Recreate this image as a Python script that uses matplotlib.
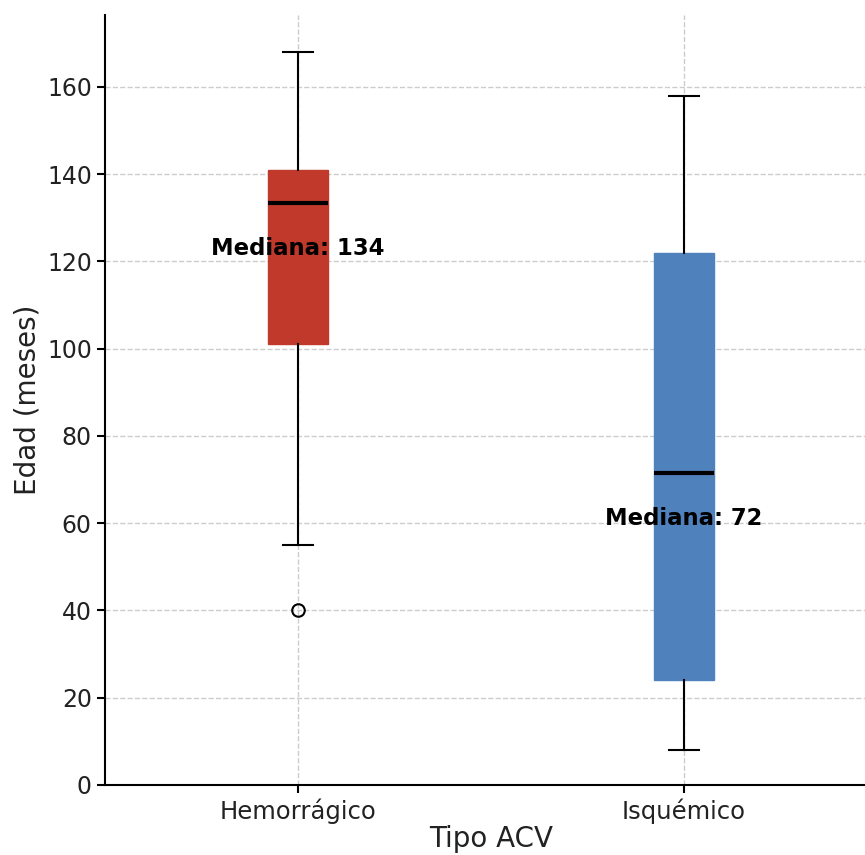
import matplotlib.pyplot as plt

# datos
tipos = ['Hemorrágico', 'Isquémico']
minimos = [55, 8]
q1 = [101, 24]
medianas = [133.5, 71.5]
q3 = [141, 122]
maximos = [168, 158]
atipicos = [[40], []]
colores = ['#C0392B', '#4F81BD']

stats = []
for i, t in enumerate(tipos):
    stats.append({'label': t, 'whislo': minimos[i], 'q1': q1[i], 'med': medianas[i],
                  'q3': q3[i], 'whishi': maximos[i], 'fliers': atipicos[i]})

fig = plt.figure(figsize=(8.65, 8.55), dpi=100)
# the original was cropped on the right, so the axes run a bit past the figure edge
ax = fig.add_axes([0.1214, 0.0819, 0.8925, 0.9006])

bp = ax.bxp(stats, positions=[0, 1], widths=0.155, patch_artist=True, showfliers=True,
            medianprops=dict(color='black', linewidth=3),
            whiskerprops=dict(color='black', linewidth=1.5),
            capprops=dict(color='black', linewidth=1.5),
            flierprops=dict(marker='o', markerfacecolor='none', markeredgecolor='black',
                            markersize=9, markeredgewidth=1.5))
for patch, c in zip(bp['boxes'], colores):
    patch.set_facecolor(c)
    patch.set_edgecolor(c)

for i, m in enumerate(medianas):
    ax.text(i, m - 10.5, 'Mediana: {}'.format(round(m + 0.01)), ha='center', va='center',
            fontsize=16.4, fontweight='bold', color='black')

ax.set_xlim(-0.5, 1.5)
ax.set_ylim(0, 176.5)
ax.set_yticks(range(0, 161, 20))
ax.grid(True, linestyle='--', color='#cccccc', linewidth=1)
ax.set_axisbelow(True)
ax.spines['top'].set_visible(False)
ax.spines['right'].set_visible(False)
ax.spines['left'].set_linewidth(1.5)
ax.spines['bottom'].set_linewidth(1.5)
ax.tick_params(axis='x', labelsize=17.5, width=1.5, length=6, labelcolor='#222222')
ax.tick_params(axis='y', labelsize=17, width=1.5, length=6, labelcolor='#222222')
ax.set_xlabel('Tipo ACV', fontsize=20, color='#222222', labelpad=1)
ax.set_ylabel('Edad (meses)', fontsize=20, color='#222222')

plt.savefig('out.png', dpi=100)
plt.close()
